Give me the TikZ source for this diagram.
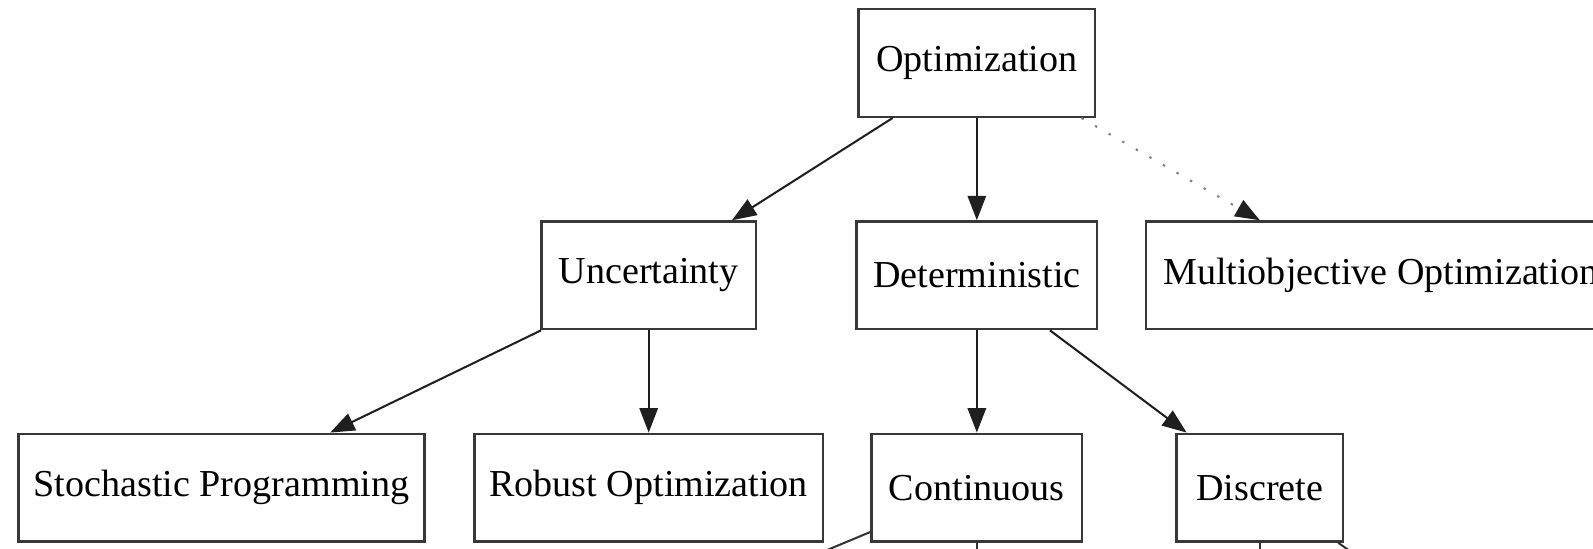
\documentclass[tikz,border=0pt]{standalone}
\usepackage{fontspec}
\setmainfont{Liberation Serif}
\usetikzlibrary{arrows.meta,calc}

\begin{document}
\begin{tikzpicture}[x=0.5pt,y=-0.5pt,
  box/.style={draw=black!78, line width=1.2pt, rectangle, inner sep=0pt,
    minimum height=53pt, font=\fontsize{18.75pt}{22pt}\selectfont},
  link/.style={draw=black!88, line width=1pt,
    -{Triangle[length=12pt,width=9pt,color=black!88,fill=black!88]}},
  plain/.style={draw=black!80, line width=1pt},
  faint/.style={link, draw=black!50, dash pattern=on 1.2pt off 6.5pt}
]
\useasboundingbox (0,0) rectangle (1568,540);
\clip (0,0) rectangle (1568,540);

% top level
\node[box, minimum width=116.5pt] (opt) at (961.5,62) {Optimization};

% second level
\node[box, minimum width=105.5pt] (unc)   at (638.5,271) {Uncertainty};
\node[box, minimum width=118.5pt] (det)   at (961.5,271) {Deterministic};
\node[box, minimum width=231pt]   (multi) at (1359,271)  {Multiobjective Optimization};

% third level
\node[box, minimum width=200pt]   (stoch) at (218,480)    {Stochastic Programming};
\node[box, minimum width=171.5pt] (rob)   at (638.5,480)  {Robust Optimization};
\node[box, minimum width=103.5pt] (cont)  at (961.5,480)  {Continuous};
\node[box, minimum width=82pt]    (disc)  at (1240,480)   {Discrete};

% loose ends running on below
\coordinate (c1) at (652,609);
\coordinate (c2) at (961.5,640);
\coordinate (d1) at (1240,640);
\coordinate (d2) at (1462,636);

% connectors
\draw[link] ($(opt.south)+(-83,0)$) -- ($(unc.north)+(82,0)$);
\draw[link] (opt.south) -- (det.north);
\draw[faint] ($(opt.south)+(103,0)$) -- ($(multi.north)+(-119,0)$);

\draw[link] ($(unc.south)+(-106,0)$) -- ($(stoch.north)+(107,0)$);
\draw[link] (unc.south) -- (rob.north);

\draw[link] (det.south) -- (cont.north);
\draw[link] ($(det.south)+(72,0)$) -- ($(disc.north)+(-72,0)$);

\draw[plain] (cont) -- (c1);
\draw[plain] (cont.south) -- (c2);
\draw[plain] (disc.south) -- (d1);
\draw[plain] (disc) -- (d2);
\end{tikzpicture}
\end{document}
